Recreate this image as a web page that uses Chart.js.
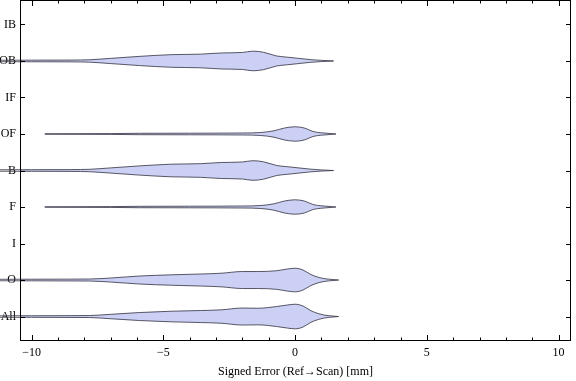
<!DOCTYPE html>
<html><head><meta charset="utf-8">
<script src="https://cdn.jsdelivr.net/npm/chart.js@4/dist/chart.umd.min.js"></script>
<style>html,body{margin:0;padding:0;background:#fff}#wrap{width:576px;height:381px}</style>
</head><body><div id="wrap"><canvas id="c" width="576" height="381"></canvas></div>
<script>
// Categories, top to bottom
const categories = ['IB','OB','IF','OF','B','F','I','O','All'];
const xMajorTicks = [-10,-5,0,5,10];
const xMinorTicks = [-10,-9,-8,-7,-6,-5,-4,-3,-2,-1,0,1,2,3,4,5,6,7,8,9,10];

// Violin profiles: x positions (mm) and relative density half-widths
const obX = [-11.5,-10,-8.5,-7.8,-7.0,-5.9,-4.7,-3.6,-2.8,-2.0,-1.6,-1.2,-0.7,-0.3,0.1,0.6,1.0,1.46];
const obW = [0.7,0.8,0.9,1.2,2.6,4.6,6.3,6.8,8.0,8.5,9.8,8.7,5.0,3.8,2.7,1.3,0.6,0];
const bX  = [-11.5,-10,-8.5,-7.8,-7.0,-5.9,-4.7,-3.6,-2.8,-2.0,-1.6,-1.2,-0.7,-0.3,0.1,0.6,1.0,1.46];
const bW  = [0.7,0.8,0.9,1.2,2.6,4.6,6.3,6.8,8.0,8.5,9.8,8.7,5.0,3.8,2.7,1.3,0.6,0];
const ofX = [-9.5,-7.0,-5.9,-4.0,-2.0,-1.3,-0.8,-0.4,0,0.35,0.65,0.85,1.1,1.55];
const ofW = [0.2,0.4,0.7,0.8,1.0,1.5,3.2,6.0,7.2,6.0,2.8,1.6,1.0,0];
const fX  = [-9.5,-7.0,-5.9,-4.0,-2.0,-1.3,-0.8,-0.4,0,0.35,0.65,0.85,1.1,1.55];
const fW  = [0.2,0.4,0.7,0.8,1.0,1.5,3.2,6.0,7.2,6.0,2.8,1.6,1.0,0];
const oX  = [-11.5,-10,-8.5,-7.8,-7.0,-5.9,-4.7,-3.6,-2.8,-2.0,-1.4,-0.7,-0.3,0,0.3,0.6,0.9,1.1,1.3,1.65];
const oW  = [0.7,0.8,0.9,1.0,2.0,4.0,5.2,6.0,6.8,8.5,8.5,9.3,11.0,11.8,10.0,5.5,2.6,1.4,0.8,0];
const allX = [-11.5,-10,-8.5,-7.8,-7.0,-5.9,-4.7,-3.6,-2.8,-2.0,-1.4,-0.7,-0.3,0,0.3,0.6,0.9,1.1,1.3,1.65];
const allW = [0.7,0.8,0.9,1.0,2.2,4.0,5.3,6.0,6.7,8.5,8.3,10.0,11.5,12.3,10.5,5.8,2.8,1.5,0.8,0];

const violins = [
  {cat:'OB', x:obX, w:obW},
  {cat:'OF', x:ofX, w:ofW},
  {cat:'B',  x:bX,  w:bW},
  {cat:'F',  x:fX,  w:fW},
  {cat:'O',  x:oX,  w:oW},
  {cat:'All',x:allX,w:allW}
];

const WIDTH_SCALE = 1/36.5;
const catPos = c => categories.length - categories.indexOf(c);
const FILL = 'rgb(204,208,245)';
const LINE = 'rgba(60,60,75,0.85)';

const datasets = [];
violins.forEach(v => {
  const c = catPos(v.cat);
  const common = {borderColor: LINE, borderWidth: 1, pointRadius: 0, pointHoverRadius: 0,
    cubicInterpolationMode: 'monotone', clip: false, showLine: true};
  datasets.push(Object.assign({label: v.cat + ' upper',
    data: v.x.map((x,i)=>({x, y: c + v.w[i]*WIDTH_SCALE})), fill: false}, common));
  datasets.push(Object.assign({label: v.cat + ' lower',
    data: v.x.map((x,i)=>({x, y: c - v.w[i]*WIDTH_SCALE})), fill: '-1', backgroundColor: FILL}, common));
});

const FONT = {family: '"Liberation Serif", "Times New Roman", serif', size: 12};

const framePlugin = {
  id: 'frame',
  afterDraw(chart) {
    const {ctx, chartArea: a, scales: {x, y}} = chart;
    ctx.save();
    ctx.strokeStyle = '#000';
    ctx.lineWidth = 1;
    ctx.strokeRect(Math.round(a.left)+0.5, Math.round(a.top)+0.5,
      Math.round(a.right - a.left)-1, Math.round(a.bottom - a.top)-1);
    ctx.beginPath();
    xMinorTicks.forEach(v => {
      const px = Math.round(x.getPixelForValue(v)) + 0.5;
      const len = xMajorTicks.includes(v) ? 6 : 3.5;
      ctx.moveTo(px, a.bottom); ctx.lineTo(px, a.bottom - len);
      ctx.moveTo(px, a.top); ctx.lineTo(px, a.top + len);
    });
    categories.forEach(c => {
      const py = Math.round(y.getPixelForValue(catPos(c))) + 0.5;
      ctx.moveTo(a.left, py); ctx.lineTo(a.left + 5, py);
      ctx.moveTo(a.right, py); ctx.lineTo(a.right - 5, py);
    });
    ctx.stroke();
    ctx.restore();
  }
};

function noPad(s) { s.paddingTop = 0; s.paddingBottom = 0; s.paddingLeft = 0; s.paddingRight = 0; }

new Chart(document.getElementById('c'), {
  type: 'scatter',
  data: {datasets},
  plugins: [framePlugin],
  options: {
    responsive: false,
    animation: false,
    events: [],
    layout: {padding: {top: 0, right: 5, left: 0, bottom: 0}},
    plugins: {legend: {display: false}, tooltip: {enabled: false}},
    scales: {
      x: {
        type: 'linear', min: -10.44, max: 10.47,
        grid: {display: false, drawTicks: false},
        border: {display: false},
        afterBuildTicks: s => { s.ticks = xMajorTicks.map(v => ({value: v})); },
        afterFit: s => { s.height = 40; noPad(s); },
        ticks: {color: '#000', font: FONT, padding: 5, maxRotation: 0,
          callback: v => v < 0 ? '\u2212' + Math.abs(v) : String(v)},
        title: {display: true, text: 'Signed Error (Ref\u2192Scan) [mm]', color: '#000', font: FONT,
          padding: {top: 0, bottom: 2}}
      },
      y: {
        type: 'linear', min: 0.33, max: 9.67,
        grid: {display: false, drawTicks: false},
        border: {display: false},
        afterBuildTicks: s => { s.ticks = categories.map(c => ({value: catPos(c)})); },
        afterFit: s => { s.width = 20; noPad(s); },
        ticks: {color: '#000', font: FONT, padding: 4,
          callback: v => categories[categories.length - v]}
      }
    }
  }
});
</script></body></html>
